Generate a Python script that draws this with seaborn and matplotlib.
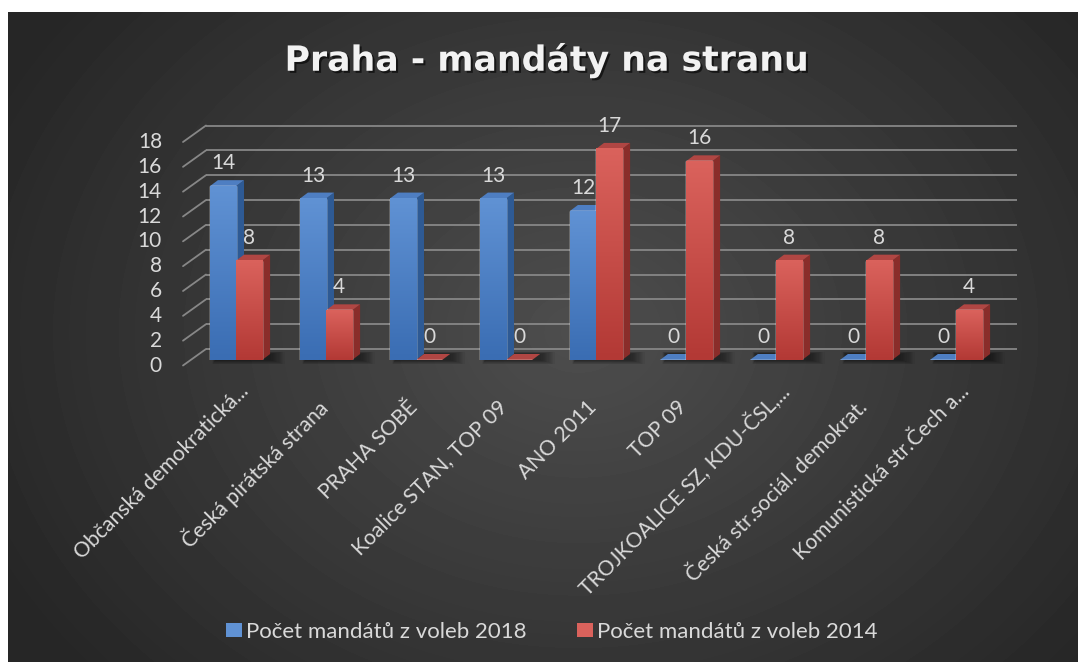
import numpy as np
import pandas as pd
import matplotlib
matplotlib.use('Agg')
import matplotlib.pyplot as plt
import seaborn as sns
from matplotlib.patches import Polygon, Patch
from matplotlib.colors import LinearSegmentedColormap
from matplotlib import patheffects

# Data
strany = ['Občanská demokratická...', 'Česká pirátská strana', 'PRAHA SOBĚ',
          'Koalice STAN, TOP 09', 'ANO 2011', 'TOP 09', 'TROJKOALICE SZ, KDU-ČSL,...',
          'Česká str.sociál. demokrat.', 'Komunistická str.Čech a...']
mandaty_2018 = [14, 13, 13, 13, 12, 0, 0, 0, 0]
mandaty_2014 = [8, 4, 0, 0, 17, 16, 8, 8, 4]
serie = ['Počet mandátů z voleb 2018', 'Počet mandátů z voleb 2014']
y_ticks = list(range(0, 19, 2))
titulek = 'Praha - mandáty na stranu'

df = pd.DataFrame({
    'strana': strany * 2,
    'rok': [serie[0]] * len(strany) + [serie[1]] * len(strany),
    'mandaty': mandaty_2018 + mandaty_2014,
})

# colours: front top, front bottom, side, top
BLUE = ('#6092d4', '#3a6db3', '#2e5a94', '#4e7ec2')
RED = ('#da625c', '#b33935', '#8a2d2a', '#b04643')
TXT = '#d9d9d9'
GRID = '#878787'

sns.set_theme(style='white')
plt.rcParams['font.family'] = ['Lato', 'DejaVu Sans']

W, H = 1078, 662
fig = plt.figure(figsize=(W / 100, H / 100), dpi=100, facecolor='white')

# dark radial background
bg = fig.add_axes([8 / W, 0, 1 - 8 / W, 1 - 12 / H])
bg.set_axis_off()
yy, xx = np.mgrid[0:650, 0:1070]
r = np.sqrt(((xx - 570) / 650) ** 2 + ((yy - 320) / 520) ** 2)
shade = 0.305 - 0.155 * np.clip(r, 0, 1)
bg.imshow(shade, cmap='gray', vmin=0, vmax=1, aspect='auto', interpolation='bilinear')

# main axes = front plane of the bars
ax_w, ax_h = 811, 223.5
ax = fig.add_axes([192 / W, (H - 360) / H, ax_w / W, ax_h / H])
ax.patch.set_alpha(0)

sns.barplot(data=df, x='strana', y='mandaty', hue='rok', palette=[BLUE[0], RED[0]],
            width=0.58, saturation=1, legend=False, ax=ax, zorder=3)

x0 = -0.489
x1 = x0 + ax_w / 90
px_x = (x1 - x0) / ax_w
px_y = 18 / ax_h

# back wall gridlines with the 3D diagonals on the left
for v in y_ticks:
    ax.plot([x0 + 14 * px_x, x1 + 14 * px_x], [v + 11 * px_y] * 2, color=GRID, lw=1.3,
            zorder=1, clip_on=False, solid_capstyle='butt')
    ax.plot([x0 - 9 * px_x, x0 + 14 * px_x], [v - 5.5 * px_y, v + 11 * px_y], color=GRID,
            lw=1.3, zorder=1, clip_on=False)
    ax.text(x0 - 30 * px_x, v - 5.5 * px_y, str(v), ha='right', va='center',
            fontsize=15, color=TXT)

# 3D look: soft floor shadow, side and top faces + gradient on the front
dx, dy = 8 * px_x, 6 * px_y
for i in range(len(strany)):
    left = ax.containers[0][i].get_x()
    right = ax.containers[1][i].get_x() + ax.containers[1][i].get_width()
    for grow in range(12, 0, -1):
        ax.add_patch(Polygon([(left + (6 - grow * 0.3) * px_x, -grow * 0.35 * px_y),
                              (right + dx + grow * 1.2 * px_x, -grow * 0.35 * px_y),
                              (right + dx + grow * 1.2 * px_x, dy + grow * 0.2 * px_y),
                              (left + (6 - grow * 0.3) * px_x, dy + grow * 0.2 * px_y)],
                             closed=True, facecolor='black', edgecolor='none', alpha=0.045,
                             zorder=1.5, clip_on=False))

for cont, cols in zip(ax.containers, [BLUE, RED]):
    cmap = LinearSegmentedColormap.from_list('g', [cols[1], cols[0]])
    for bar in cont:
        x, w, h = bar.get_x(), bar.get_width(), bar.get_height()
        ax.add_patch(Polygon([(x + w, 0), (x + w + dx, dy), (x + w + dx, h + dy), (x + w, h)],
                             closed=True, facecolor=cols[2], edgecolor='none', zorder=2))
        ax.add_patch(Polygon([(x, h), (x + dx, h + dy), (x + w + dx, h + dy), (x + w, h)],
                             closed=True, facecolor=cols[3], edgecolor='none', zorder=2))
        if h > 0:
            ax.imshow(np.linspace(0, 1, 64).reshape(-1, 1)[::-1], cmap=cmap, aspect='auto',
                      extent=[x, x + w, 0, h], zorder=3.1, interpolation='bilinear')
        ax.text(x + w / 2, h + 17 * px_y, str(int(h)), ha='center', va='baseline',
                fontsize=15, color=TXT, zorder=5)

ax.set_xlim(x0, x1)
ax.set_ylim(0, 18)
ax.set_axis_off()

# category labels (truncated ones sit a bit further up the diagonal)
for i, s in enumerate(strany):
    sx, sy = (10, -28) if s.endswith('...') else (-2, -44)
    ax.text(i + sx * px_x, sy * px_y, s, rotation=45, rotation_mode='anchor',
            ha='right', va='center', fontsize=15.2, color=TXT)

# title
fig.text(547 / W, 1 - 60 / H, titulek, ha='center', va='center', fontsize=25,
         fontweight='bold', family=['DejaVu Sans'], color='#f2f2f2',
         path_effects=[patheffects.withSimplePatchShadow(offset=(1.5, -1.5),
                                                         shadow_rgbFace='black', alpha=0.6)])

# legend
handles = [Patch(facecolor=BLUE[0], edgecolor='none'), Patch(facecolor=RED[0], edgecolor='none')]
fig.legend(handles, serie, loc='center', bbox_to_anchor=(552 / W, 1 - 632 / H), ncol=2,
           frameon=False, handlelength=0.7, handleheight=0.6, handletextpad=0.2,
           columnspacing=2.25, fontsize=16, labelcolor=TXT)

fig.savefig('out.png', dpi=100)
